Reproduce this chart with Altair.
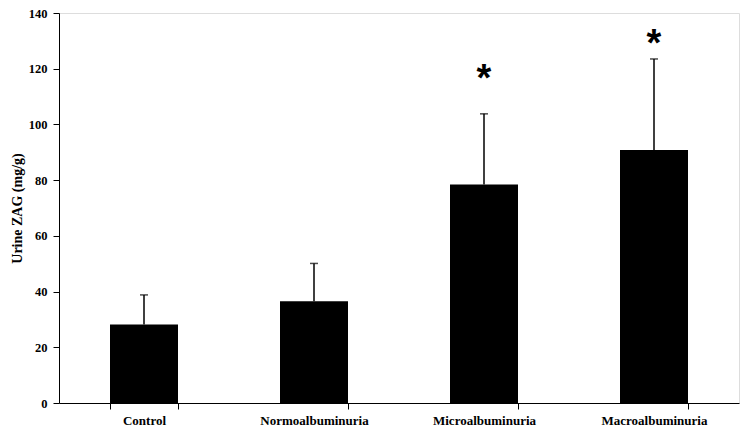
import altair as alt
import pandas as pd

categories = ["Control", "Normoalbuminuria", "Microalbuminuria", "Macroalbuminuria"]
means = [28.2, 36.5, 78.4, 90.8]
upper = [38.8, 50.1, 103.8, 123.5]
star_cats = ["Microalbuminuria", "Macroalbuminuria"]
star_vals = [119.2, 131.8]

df = pd.DataFrame({"group": categories, "mean": means, "upper": upper})
stars = pd.DataFrame({"group": star_cats, "y": star_vals, "label": ["*", "*"]})

FONT = "Liberation Serif"

x = alt.X("group:N", sort=categories, title=None,
          scale=alt.Scale(paddingInner=0.6, paddingOuter=0.3),
          axis=alt.Axis(labelAngle=0, labelFont=FONT, labelFontWeight="bold",
                        labelFontSize=13, labelColor="black", domainColor="black",
                        tickColor="black", tickBand="extent", tickSize=6,
                        labelPadding=5, domainWidth=1))
y = alt.Y("mean:Q", title="Urine ZAG (mg/g)",
          scale=alt.Scale(domain=[0, 140], nice=False),
          axis=alt.Axis(values=[0, 20, 40, 60, 80, 100, 120, 140], grid=False,
                        labelFont=FONT, labelFontWeight="bold", labelFontSize=12.5,
                        labelColor="black", domainColor="black", tickColor="black",
                        tickSize=6, labelPadding=6, titleFont=FONT,
                        titleFontWeight="bold", titleFontSize=14, titleColor="black",
                        titlePadding=4))

bars = alt.Chart(df).mark_bar(color="black").encode(x=x, y=y)
err = alt.Chart(df).mark_rule(color="black", strokeWidth=1.5).encode(
    x=alt.X("group:N", sort=categories), y="mean:Q", y2="upper:Q")
cap = alt.Chart(df).mark_tick(color="black", thickness=1.5, size=8, orient="horizontal").encode(
    x=alt.X("group:N", sort=categories), y="upper:Q")
star = alt.Chart(stars).mark_text(font="Liberation Sans", fontWeight="bold", fontSize=38,
                                   color="black", baseline="middle", dy=9).encode(
    x=alt.X("group:N", sort=categories), y="y:Q", text="label:N")

chart = alt.layer(bars, err, cap, star).properties(
    width=680, height=390,
    autosize=alt.AutoSizeParams(type="none"),
    padding={"left": 51, "top": 5, "right": 3, "bottom": 26},
).configure_view(stroke=None).configure(background="white")

chart.save("out.html", embed_options={"renderer": "svg", "actions": False})
